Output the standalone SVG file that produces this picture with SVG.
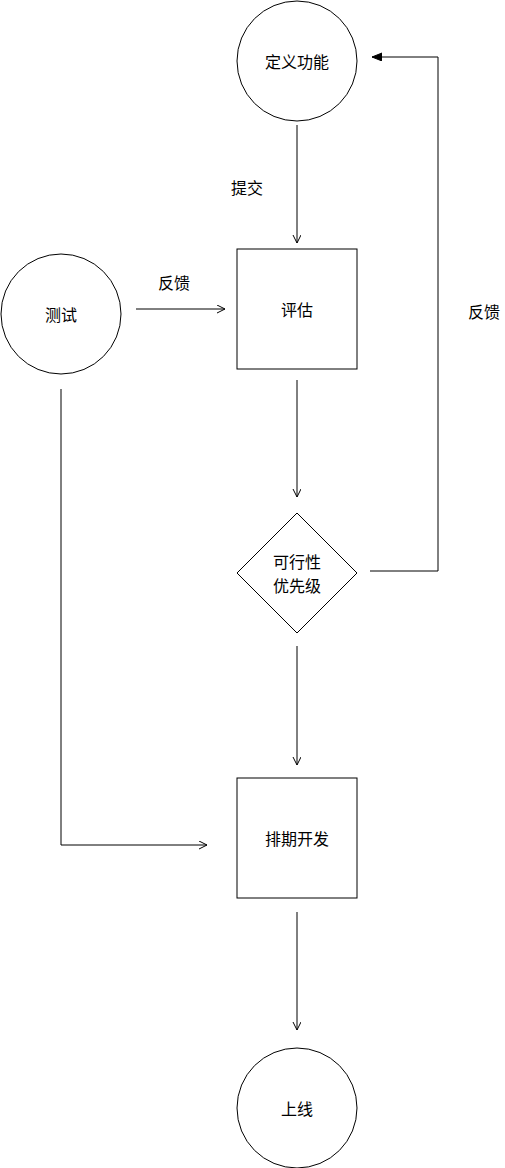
<svg xmlns="http://www.w3.org/2000/svg" width="505" height="1168" viewBox="0 0 505 1168">
<style>
.s{fill:#fff;stroke:#000;stroke-width:1}
.t{font-family:"Noto Sans CJK SC","Liberation Sans",sans-serif;font-size:16px;fill:#000;text-anchor:middle;dominant-baseline:central}
.c{fill:none;stroke:#000;stroke-width:1}
</style>
<defs>
<marker id="open" markerWidth="10" markerHeight="10" refX="8" refY="4" orient="auto" markerUnits="userSpaceOnUse">
<path d="M0,0 L8,4 L0,8" fill="none" stroke="#000" stroke-width="1"/>
</marker>
<marker id="fill" markerWidth="12" markerHeight="10" refX="10" refY="4" orient="auto" markerUnits="userSpaceOnUse">
<path d="M0,0 L10,4 L0,8 Z" fill="#000" stroke="#000" stroke-width="1"/>
</marker>
</defs>
<rect width="505" height="1168" fill="#fff"/>
<g id="connectors">
<path class="c" d="M297,125 V243" marker-end="url(#open)"/>
<path class="c" d="M136,309 H225" marker-end="url(#open)"/>
<path class="c" d="M297,380 V497" marker-end="url(#open)"/>
<path class="c" d="M370,571 H438 V57 H372" marker-end="url(#fill)"/>
<path class="c" d="M297,646 V765" marker-end="url(#open)"/>
<path class="c" d="M61,389 V845 H207" marker-end="url(#open)"/>
<path class="c" d="M297,912 V1030" marker-end="url(#open)"/>
<text class="t" x="247" y="187">提交</text>
<text class="t" x="174" y="282">反馈</text>
<text class="t" x="484" y="311">反馈</text>
</g>
<g id="define">
<circle class="s" cx="297" cy="61" r="60"/>
<text class="t" x="297" y="61">定义功能</text>
</g>
<g id="evaluate">
<rect class="s" x="237" y="249" width="120" height="120"/>
<text class="t" x="297" y="309">评估</text>
</g>
<g id="test">
<circle class="s" cx="61" cy="314" r="60"/>
<text class="t" x="61" y="314">测试</text>
</g>
<g id="decision">
<path class="s" d="M297,513 L357,573 L297,633 L237,573 Z"/>
<text class="t" x="297" y="561">可行性</text>
<text class="t" x="297" y="585">优先级</text>
</g>
<g id="schedule">
<rect class="s" x="237" y="778" width="120" height="120"/>
<text class="t" x="297" y="838">排期开发</text>
</g>
<g id="launch">
<circle class="s" cx="297" cy="1108" r="60"/>
<text class="t" x="297" y="1108">上线</text>
</g>
</svg>
